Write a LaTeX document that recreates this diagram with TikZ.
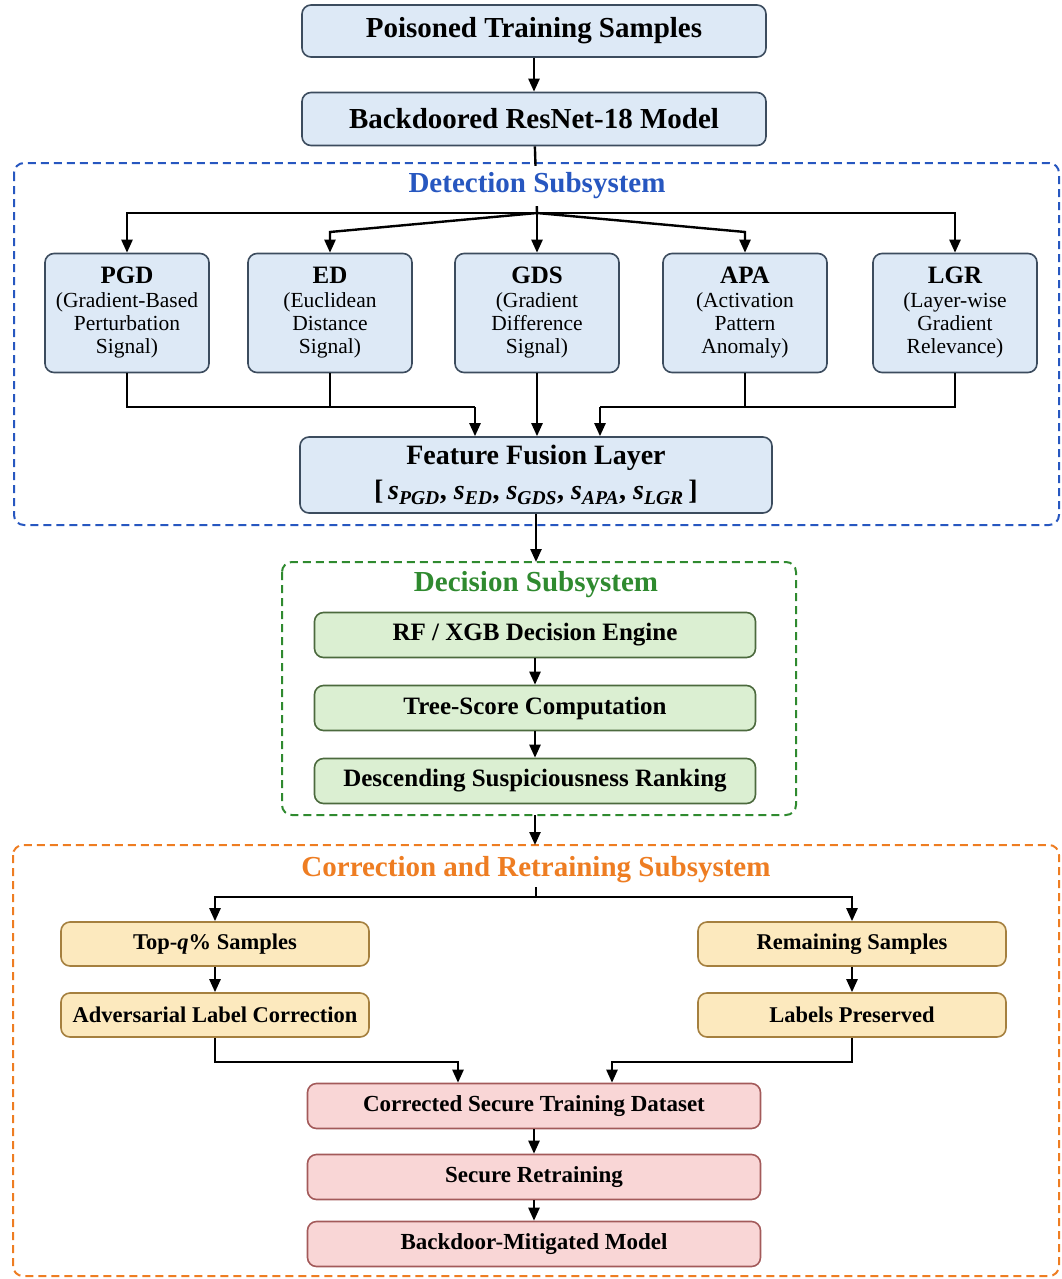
\documentclass[tikz,border=0pt]{standalone}
\usepackage{fontspec}
\setmainfont{Liberation Serif}
\usetikzlibrary{arrows.meta}

\definecolor{blueFill}{HTML}{DDE9F6}
\definecolor{blueLine}{HTML}{3C4C5E}
\definecolor{greenFill}{HTML}{DBEFD2}
\definecolor{greenLine}{HTML}{4C6A3E}
\definecolor{yellowFill}{HTML}{FCE9BE}
\definecolor{yellowLine}{HTML}{A5803F}
\definecolor{pinkFill}{HTML}{F9D6D6}
\definecolor{pinkLine}{HTML}{A35A5A}
\definecolor{detBlue}{HTML}{2757C0}
\definecolor{decGreen}{HTML}{2F8A2F}
\definecolor{corOrange}{HTML}{EE7D22}

\tikzset{
  box/.style={rounded corners=9pt, line width=1.6pt, inner sep=0pt, align=center,
    font=\bfseries\fontsize{25}{29}\selectfont},
  bluebox/.style={box, draw=blueLine, fill=blueFill},
  greenbox/.style={box, draw=greenLine, fill=greenFill, minimum width=441pt, minimum height=45pt},
  yellowbox/.style={box, draw=yellowLine, fill=yellowFill, minimum width=308pt, minimum height=44pt,
    font=\bfseries\fontsize{22.5}{26}\selectfont},
  pinkbox/.style={box, draw=pinkLine, fill=pinkFill, minimum width=453pt, minimum height=45pt,
    font=\bfseries\fontsize{23}{27}\selectfont},
  signal/.style={bluebox, minimum width=164pt, minimum height=119pt,
    font=\fontsize{21.5}{23}\selectfont},
  group/.style={dash pattern=on 8pt off 5pt, line width=2pt, rounded corners=10pt},
  grouptitle/.style={font=\bfseries\fontsize{29}{33}\selectfont, fill=white,
    inner xsep=4pt, minimum height=40pt},
  arr/.style={line width=2.4pt, -{Triangle[length=13pt,width=11pt]}},
  ln/.style={line width=2.4pt}
}

\newcommand{\sig}[2]{{\bfseries\fontsize{25}{29}\selectfont #1}\\[1pt]#2}
\newcommand{\score}[1]{\textit{s}\textsubscript{\textit{#1}}}

\begin{document}
\begin{tikzpicture}[x=1pt, y=-1pt]
	\useasboundingbox (0,0) rectangle (1062,1279);

	% subsystem frames
	\draw[group, detBlue] (14,163) rectangle (1059,525);
	\draw[group, decGreen] (282,562) rectangle (796,815);
	\draw[group, corOrange] (13,845) rectangle (1059,1276);

	% input
	\node[bluebox, minimum width=464pt, minimum height=52pt, font=\bfseries\fontsize{29}{33}\selectfont]
		(poison) at (534,31) {Poisoned Training Samples};
	\node[bluebox, minimum width=464pt, minimum height=53pt, font=\bfseries\fontsize{29}{33}\selectfont]
		(resnet) at (534,119) {Backdoored ResNet-18 Model};

	\coordinate (split) at (537,213);
	\draw[ln] (resnet) -- (split);

	\node[grouptitle, text=detBlue] (dettitle) at (537,186) {Detection Subsystem};
	\node[grouptitle, text=decGreen] (dectitle) at (536,585) {Decision Subsystem};
	\node[grouptitle, text=corOrange] (cortitle) at (536,870) {Correction and Retraining Subsystem};

	% detection signals
	\node[signal] (pgd) at (127,313) {\sig{PGD}{(Gradient-Based\\Perturbation\\Signal)}};
	\node[signal] (ed) at (330,313) {\sig{ED}{(Euclidean\\Distance\\Signal)}};
	\node[signal] (gds) at (537,313) {\sig{GDS}{(Gradient\\Difference\\Signal)}};
	\node[signal] (apa) at (745,313) {\sig{APA}{(Activation\\Pattern\\Anomaly)}};
	\node[signal] (lgr) at (955,313) {\sig{LGR}{(Layer-wise\\Gradient\\Relevance)}};

	\node[bluebox, minimum width=472pt, minimum height=76pt, font=\bfseries\fontsize{28}{35}\selectfont]
		(fusion) at (536,475) {Feature Fusion Layer\\
		{[}\,\score{PGD}, \score{ED}, \score{GDS}, \score{APA}, \score{LGR}\,{]}};

	% decision
	\node[greenbox] (rf) at (535,635) {RF / XGB Decision Engine};
	\node[greenbox] (tree) at (535,708) {Tree-Score Computation};
	\node[greenbox] (desc) at (535,781) {Descending Suspiciousness Ranking};

	% correction
	\node[yellowbox] (topq) at (215,944) {Top-\textit{q}\% Samples};
	\node[yellowbox] (adv) at (215,1015) {Adversarial Label Correction};
	\node[yellowbox] (remain) at (852,944) {Remaining Samples};
	\node[yellowbox] (labels) at (852,1015) {Labels Preserved};

	\node[pinkbox] (corrected) at (534,1106) {Corrected Secure Training Dataset};
	\node[pinkbox] (retrain) at (534,1177) {Secure Retraining};
	\node[pinkbox] (mitig) at (534,1244) {Backdoor-Mitigated Model};

	% connectors
	\draw[arr] (poison) -- (resnet);

	\coordinate (edknee) at (330,232);
	\coordinate (apaknee) at (745,232);
	\draw[arr] (split) -- (gds);
	\draw[arr] (split) -| (pgd);
	\draw[arr] (split) -| (lgr);
	\draw[arr] (split) -- (edknee) -- (ed);
	\draw[arr] (split) -- (apaknee) -- (apa);

	\coordinate (lmerge) at (475,407);
	\coordinate (rmerge) at (600,407);
	\draw[ln] (pgd) |- (lmerge);
	\draw[ln] (ed) -- (ed |- lmerge);
	\draw[arr] (lmerge) -- (lmerge |- fusion.north);
	\draw[ln] (lgr) |- (rmerge);
	\draw[ln] (apa) -- (apa |- rmerge);
	\draw[arr] (rmerge) -- (rmerge |- fusion.north);
	\draw[arr] (gds) -- (gds |- fusion.north);

	\coordinate (dectop) at (536,562);
	\draw[arr] (fusion) -- (dectop);
	\draw[arr] (rf) -- (tree);
	\draw[arr] (tree) -- (desc);

	\coordinate (decbot) at (535,815);
	\coordinate (cortop) at (535,845);
	\draw[arr] (decbot) -- (cortop);

	\coordinate (csplit) at (536,887);
	\draw[arr] (csplit) -- ++(0,10) -| (topq);
	\draw[arr] (csplit) -- ++(0,10) -| (remain);
	\draw[arr] (topq) -- (adv);
	\draw[arr] (remain) -- (labels);

	\coordinate (cl) at (458,1062);
	\coordinate (cr) at (612,1062);
	\draw[arr] (adv) |- (cl) -- (cl |- corrected.north);
	\draw[arr] (labels) |- (cr) -- (cr |- corrected.north);
	\draw[arr] (corrected) -- (retrain);
	\draw[arr] (retrain) -- (mitig);
\end{tikzpicture}
\end{document}
